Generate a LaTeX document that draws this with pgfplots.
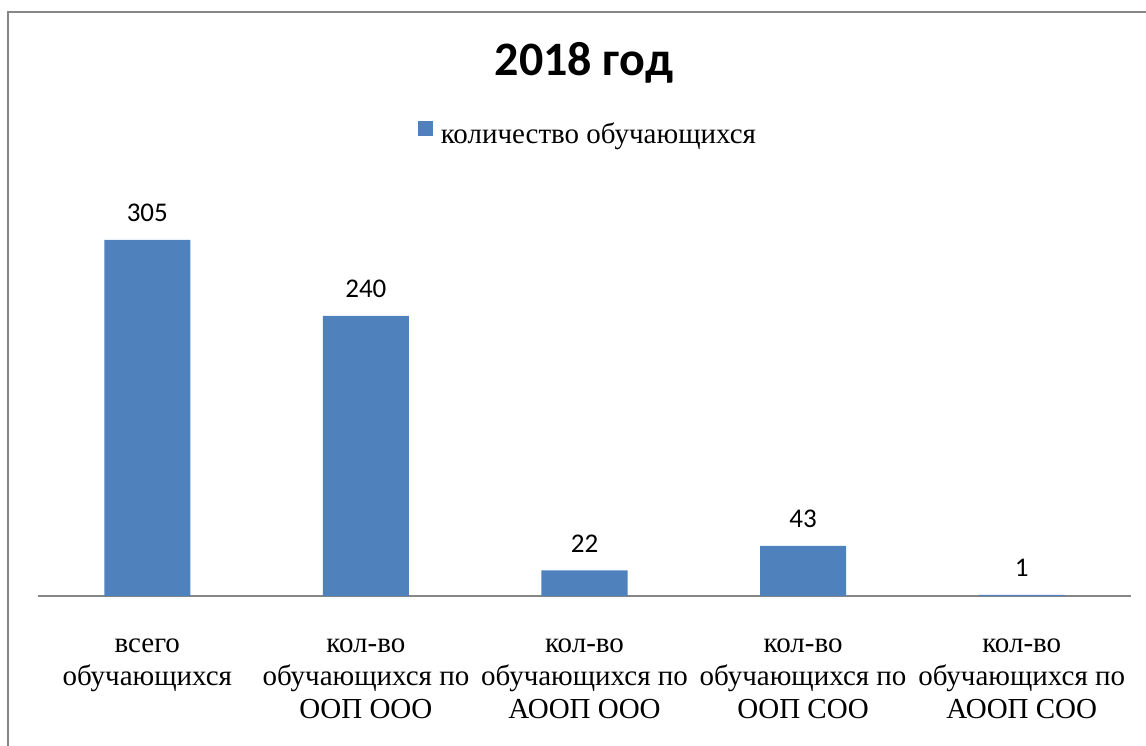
\documentclass[border=0pt]{standalone}
\usepackage{fontspec}
\setmainfont{Liberation Serif}
\newfontfamily\calibri{Carlito}
\usepackage{pgfplots}
\pgfplotsset{compat=1.18}
\definecolor{barblue}{HTML}{4F81BD}
\definecolor{framegray}{HTML}{868686}

\begin{document}
\begin{tikzpicture}[x=0.5pt,y=0.5pt]
\path[use as bounding box] (0,0) rectangle (1146,745);
\draw[framegray, line width=1.2pt] (8,-10) -- (8,733) -- (1160,733);
\node[font=\calibri\bfseries\fontsize{24}{28}\selectfont] at (584,682) {2018 год};
\coordinate (A) at (38,149);

\begin{axis}[
    at={(A)}, anchor=south west,
    width=546.5pt, height=204.3pt, scale only axis,
    xmin=-0.5, xmax=4.5, ymin=0, ymax=350,
    hide y axis,
    axis x line=bottom,
    x axis line style={-, framegray, line width=0.8pt},
    xtick={0,1,2,3,4},
    xtick style={draw=none},
    xticklabels={{всего\\обучающихся},
                 {кол-во\\обучающихся по\\ООП ООО},
                 {кол-во\\обучающихся по\\АООП ООО},
                 {кол-во\\обучающихся по\\ООП СОО},
                 {кол-во\\обучающихся по\\АООП СОО}},
    xticklabel style={font=\fontsize{14.5}{16.5}\selectfont, align=center,
                      anchor=north, yshift=-13.5pt},
    ybar, bar width=43pt,
    nodes near coords={\calibri\pgfmathprintnumber[assume math mode=true]{\pgfplotspointmeta}},
    nodes near coords style={font=\fontsize{13.5}{16}\selectfont,
                             anchor=center, yshift=13.5pt, text=black},
    legend style={at={(0.504,1.128)}, anchor=center, draw=none, fill=none,
                  font=\fontsize{14.5}{16.5}\selectfont,
                  /tikz/every odd column/.append style={column sep=2pt}},
    legend image code/.code={\fill[barblue] (0pt,-0.5pt) rectangle (7.5pt,7pt);},
]
\addplot[fill=barblue, draw=none] coordinates {
    (0,305) (1,240) (2,22) (3,43) (4,1)
};
\legend{количество обучающихся}
\end{axis}
\end{tikzpicture}
\end{document}
